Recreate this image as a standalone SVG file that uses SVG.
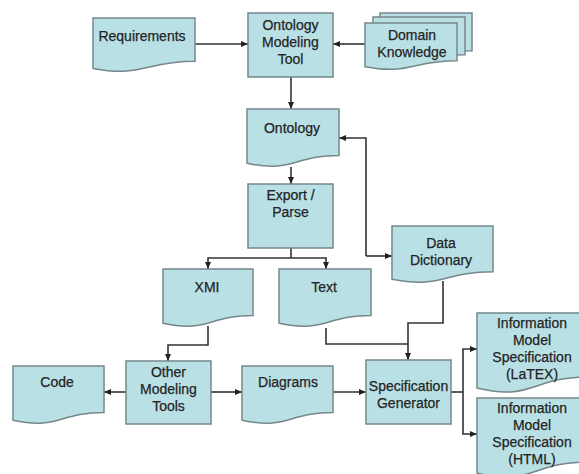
<svg xmlns="http://www.w3.org/2000/svg" width="579" height="474" viewBox="0 0 579 474">
<defs>
<style>
.s{fill:#b9e0e4;stroke:#75878a;stroke-width:1.5}
.t{font-family:"Liberation Sans",Arial,sans-serif;font-size:14px;fill:#242424;stroke:#242424;stroke-width:0.25;text-anchor:middle}
.c{fill:none;stroke:#333;stroke-width:1.6}
</style>
<marker id="a" markerUnits="userSpaceOnUse" markerWidth="8" markerHeight="8" refX="7" refY="4" orient="auto">
<path d="M0,1 L7,4 L0,7 Z" fill="#222"/>
</marker>
</defs>
<rect width="579" height="474" fill="#fff"/>

<g id="connectors" class="c">
<path class="c" d="M195,44 H248" marker-end="url(#a)"/>
<path class="c" d="M365,44 H333" marker-end="url(#a)"/>
<path class="c" d="M291,77 V109" marker-end="url(#a)"/>
<path class="c" d="M291,167 V184" marker-end="url(#a)"/>
<path class="c" d="M291,248 V258"/>
<path class="c" d="M291,258 H208 V269" marker-end="url(#a)"/>
<path class="c" d="M291,258 H326 V269" marker-end="url(#a)"/>
<path class="c" d="M366,256 V138 H339" marker-end="url(#a)"/>
<path class="c" d="M366,256 H392" marker-end="url(#a)"/>
<path class="c" d="M208,326 V345 H168 V361" marker-end="url(#a)"/>
<path class="c" d="M326,328 V344 H408"/>
<path class="c" d="M443,281 V323 H408 V360" marker-end="url(#a)"/>
<path class="c" d="M126,392 H104" marker-end="url(#a)"/>
<path class="c" d="M211,392 H242" marker-end="url(#a)"/>
<path class="c" d="M333,392 H366" marker-end="url(#a)"/>
<path class="c" d="M451,392 H463"/>
<path class="c" d="M463,392 V349 H477" marker-end="url(#a)"/>
<path class="c" d="M463,392 V434 H477" marker-end="url(#a)"/>
</g>

<g id="requirements">
<path class="s" d="M93,18 H195 V61.3 C144,61.3 144,77.8 93,68.4 Z"/>
<text class="t" x="142" y="41">Requirements</text>
</g>

<g id="ontology-modeling-tool">
<rect class="s" x="248" y="13" width="85" height="64"/>
<text class="t" x="290.5" y="30">Ontology</text>
<text class="t" x="290.5" y="47">Modeling</text>
<text class="t" x="290.5" y="64">Tool</text>
</g>

<g id="domain-knowledge">
<path class="s" d="M380,13 H472 V50.7 C426,50.7 426,65 380,56.8 Z"/>
<path class="s" d="M373,17 H465 V54.7 C419,54.7 419,69 373,60.8 Z"/>
<path class="s" d="M365,23 H457 V60.7 C411,60.7 411,75 365,66.8 Z"/>
<text class="t" x="412" y="40">Domain</text>
<text class="t" x="412" y="57">Knowledge</text>
</g>

<g id="ontology">
<path class="s" d="M247,109 H339 V155.5 C293,155.5 293,173.2 247,163.2 Z"/>
<text class="t" x="292" y="133">Ontology</text>
</g>

<g id="export-parse">
<rect class="s" x="248" y="184" width="85" height="64"/>
<text class="t" x="290.5" y="200">Export /</text>
<text class="t" x="290.5" y="217">Parse</text>
</g>

<g id="data-dictionary">
<path class="s" d="M392,226 H493 V271.7 C442.5,271.7 442.5,289.1 392,279.2 Z"/>
<text class="t" x="441" y="248">Data</text>
<text class="t" x="441" y="265">Dictionary</text>
</g>

<g id="xmi">
<path class="s" d="M163,269 H253 V315.5 C208,315.5 208,333.2 163,323.2 Z"/>
<text class="t" x="207" y="292">XMI</text>
</g>

<g id="text">
<path class="s" d="M279,269 H371 V315.5 C325,315.5 325,333.2 279,323.2 Z"/>
<text class="t" x="324" y="292">Text</text>
</g>

<g id="code">
<path class="s" d="M13,366 H104 V412.5 C58.5,412.5 58.5,430.2 13,420.2 Z"/>
<text class="t" x="57" y="387">Code</text>
</g>

<g id="other-modeling-tools">
<rect class="s" x="126" y="361" width="85" height="63"/>
<text class="t" x="168.5" y="377">Other</text>
<text class="t" x="168.5" y="394">Modeling</text>
<text class="t" x="168.5" y="411">Tools</text>
</g>

<g id="diagrams">
<path class="s" d="M242,366 H333 V412.5 C287.5,412.5 287.5,430.2 242,420.2 Z"/>
<text class="t" x="288" y="387">Diagrams</text>
</g>

<g id="specification-generator">
<rect class="s" x="366" y="360" width="85" height="64"/>
<text class="t" x="408.5" y="391">Specification</text>
<text class="t" x="408.5" y="408">Generator</text>
</g>

<g id="info-latex">
<path class="s" d="M477,313 H587 V377 C532,377 532,401.6 477,388 Z"/>
<text class="t" x="532" y="328">Information</text>
<text class="t" x="532" y="345">Model</text>
<text class="t" x="532" y="362">Specification</text>
<text class="t" x="532" y="379">(LaTEX)</text>
</g>

<g id="info-html">
<path class="s" d="M477,398 H587 V462 C532,462 532,486.6 477,473 Z"/>
<text class="t" x="532" y="413">Information</text>
<text class="t" x="532" y="430">Model</text>
<text class="t" x="532" y="447">Specification</text>
<text class="t" x="532" y="464">(HTML)</text>
</g>
</svg>
